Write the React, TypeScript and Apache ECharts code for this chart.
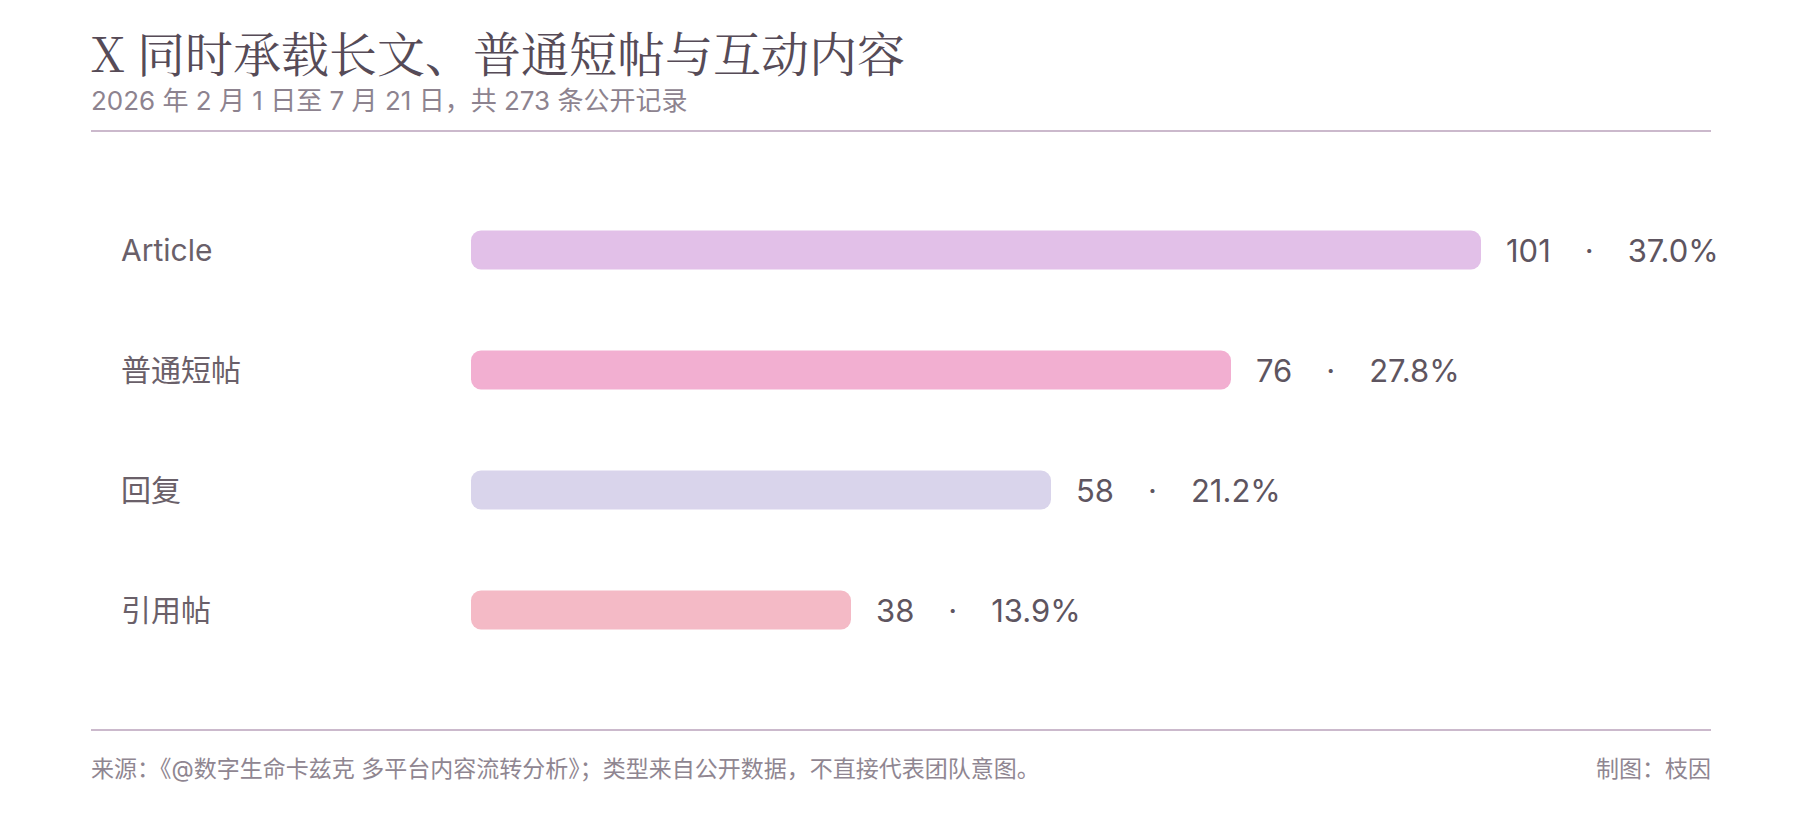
import React, { useEffect, useRef } from "react";
import * as echarts from "echarts";

const categories = ["Article", "普通短帖", "回复", "引用帖"];
const counts = [101, 76, 58, 38];
const barColors = ["#e2c0e8", "#f2afd1", "#d9d4eb", "#f4bac6"];
const TOTAL = 273;

const TITLE = "X 同时承载长文、普通短帖与互动内容";
const SUBTITLE = "2026 年 2 月 1 日至 7 月 21 日，共 273 条公开记录";
const SOURCE = "来源：《@数字生命卡兹克 多平台内容流转分析》；类型来自公开数据，不直接代表团队意图。";
const CREDIT = "制图：枝因";

const SANS = "Inter, 'Noto Sans CJK SC', sans-serif";
const SERIF = "'Noto Serif CJK SC', 'Source Han Serif SC', 'DejaVu Serif', serif";
const RULE = "#cbb9cc";

const App: React.FC = () => {
    const ref = useRef<HTMLDivElement | null>(null);

    useEffect(() => {
        document.body.style.margin = "0";
        if (!ref.current) return;
        const inst = echarts.init(ref.current, undefined, { renderer: "svg" });

        inst.setOption({
            animation: false,
            backgroundColor: "#ffffff",
            grid: { left: 471, right: 129, top: 190, height: 480, containLabel: false },
            xAxis: {
                type: "value",
                min: 0,
                max: 120,
                show: false,
            },
            yAxis: {
                type: "category",
                inverse: true,
                data: categories,
                axisLine: { show: false },
                axisTick: { show: false },
                axisLabel: {
                    align: "left",
                    margin: 350,
                    color: "#6a6069",
                    fontSize: 30,
                    fontFamily: SANS,
                },
            },
            series: [
                {
                    type: "bar",
                    barWidth: 39,
                    data: counts.map((v, i) => ({
                        value: v,
                        itemStyle: { color: barColors[i], borderRadius: 10 },
                    })),
                    label: {
                        show: true,
                        position: "right",
                        distance: 25,
                        formatter: (p: any) =>
                            `{v|${p.value}}{d|·}{p|${((p.value / TOTAL) * 100).toFixed(1)}%}`,
                        rich: {
                            v: { color: "#5e5560", fontSize: 31, fontFamily: SANS },
                            d: { color: "#5e5560", fontSize: 31, fontFamily: SANS, padding: [0, 34, 0, 34] },
                            p: { color: "#5e5560", fontSize: 31, fontFamily: SANS },
                        },
                    },
                },
            ],
            graphic: [
                {
                    type: "text",
                    left: 91,
                    top: 27,
                    style: { text: TITLE, fill: "#564b57", font: `48px ${SERIF}` },
                },
                {
                    type: "text",
                    left: 91,
                    top: 87,
                    style: { text: SUBTITLE, fill: "#8d838f", font: `26px ${SANS}` },
                },
                {
                    type: "rect",
                    shape: { x: 91, y: 130, width: 1620, height: 2 },
                    style: { fill: RULE },
                },
                {
                    type: "rect",
                    shape: { x: 91, y: 729, width: 1620, height: 2 },
                    style: { fill: RULE },
                },
                {
                    type: "text",
                    left: 91,
                    top: 757,
                    style: { text: SOURCE, fill: "#8f8691", font: `23px ${SANS}` },
                },
                {
                    type: "text",
                    right: 89,
                    top: 757,
                    style: { text: CREDIT, fill: "#8f8691", font: `23px ${SANS}` },
                },
            ],
        });

        return () => inst.dispose();
    }, []);

    return <div ref={ref} style={{ width: 1800, height: 820 }} />;
};

export default App;
